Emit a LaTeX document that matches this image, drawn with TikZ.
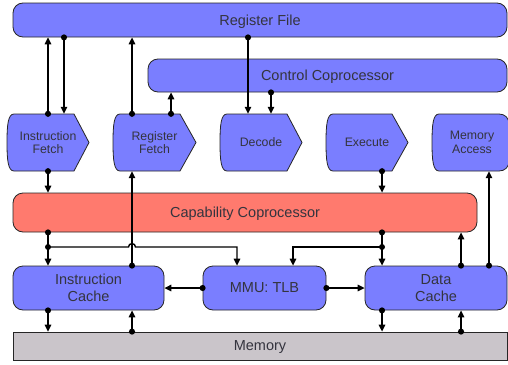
\documentclass[tikz,border=0pt]{standalone}
\usepackage{fontspec}
\setmainfont{Liberation Sans}
\usetikzlibrary{arrows.meta}
\definecolor{boxblue}{RGB}{122,126,255}
\definecolor{capred}{RGB}{255,122,110}
\definecolor{memgray}{RGB}{202,197,202}
\definecolor{txt}{RGB}{52,52,62}
\tikzset{
  blk/.style={draw=black!85, line width=0.8pt, rounded corners=10pt, fill=boxblue, inner sep=0pt, text=txt, font=\fontsize{14.5}{17}\selectfont, align=center},
  oneline/.style={text depth=0pt},
  stagefill/.style={draw=black!85, line width=0.8pt, fill=boxblue},
  stagetext/.style={text=txt, font=\fontsize{12.3}{13.5}\selectfont, align=center, inner sep=0pt, minimum height=57pt},
  conn/.style={line width=1.4pt, {Circle[length=6pt]}-{Triangle[length=7pt,width=6.5pt]}, shorten <=-3pt},
  link/.style={line width=1.4pt, -{Triangle[length=7pt,width=6.5pt]}},
}
\newcommand\stagebox[5]{%
  \draw[stagefill] (#2+7,114) -- (#3,114) -- (#4,142.5) -- (#3,171) -- (#2+7,171)
    .. controls (#2+1,171) and (#2,160) .. (#2,142.5)
    .. controls (#2,125) and (#2+1,114) .. cycle;
  \node[stagetext, minimum width={#4-#2}] (#1) at ({(#2+#4)/2},142.5) {#5};
}
\begin{document}
\begin{tikzpicture}[x=1pt,y=-1pt]
\clip (0,0) rectangle (508,364);
\fill[white] (0,0) rectangle (508,364);
% boxes
\node[blk, oneline, minimum width=494pt, minimum height=34pt] (rf) at (260,20) {Register File};
\node[blk, oneline, minimum width=359pt, minimum height=33pt] (cc) at (327.5,75.5) {Control Coprocessor};
\stagebox{if}{7}{74}{89}{Instruction\\Fetch}
\stagebox{rfe}{113}{180}{196}{Register\\Fetch}
\stagebox{dec}{220}{287}{302}{Decode}
\stagebox{exe}{326}{392}{408}{Execute}
\draw[stagefill] (439,114) -- (499,114) .. controls (505,114) and (509,118) .. (509,124)
  -- (509,161) .. controls (509,167) and (505,171) .. (499,171) -- (439,171)
  .. controls (433,171) and (432,160) .. (432,142.5)
  .. controls (432,125) and (433,114) .. cycle;
\node[stagetext, minimum width=77pt] (ma) at (472,142.5) {Memory\\Access};
\node[blk, oneline, fill=capred, minimum width=464pt, minimum height=39pt] (cap) at (245,212.5) {Capability Coprocessor};
\node[blk, minimum width=151pt, minimum height=44pt] (ic) at (88.5,288) {Instruction\\Cache};
\node[blk, oneline, minimum width=123pt, minimum height=44pt] (mmu) at (264.5,288) {MMU: TLB};
\node[blk, minimum width=142pt, minimum height=44pt] (dc) at (436,288) {Data\\Cache};
\node[blk, oneline, rounded corners=0pt, fill=memgray, minimum width=494pt, minimum height=28pt] (mem) at (260,346) {Memory};
% columns
\coordinate (x48) at (48,0);
\coordinate (x64) at (64,0);
\coordinate (x132) at (132,0);
\coordinate (x171) at (171,0);
\coordinate (x237) at (237,0);
\coordinate (x248) at (248,0);
\coordinate (x271) at (271,0);
\coordinate (x293) at (293,0);
\coordinate (x382) at (382,0);
\coordinate (x461) at (461,0);
\coordinate (x489) at (489,0);
% connectors
\draw[conn] (x48 |- if.north) -- (x48 |- rf.south);
\draw[conn] (x64 |- rf.south) -- (x64 |- if.north);
\draw[conn] (x132 |- rfe.north) -- (x132 |- rf.south);
\draw[conn] (x171 |- rfe.north) -- (x171 |- cc.south);
\draw[conn] (x248 |- rf.south) -- (x248 |- dec.north);
\draw[conn] (x271 |- cc.south) -- (x271 |- dec.north);
\draw[conn] (x382 |- exe.south) -- (x382 |- cap.north);
\draw[conn] (x489 |- dc.north) -- (x489 |- ma.south);
\draw[conn] (x48 |- if.south) -- (x48 |- cap.north);
\draw[conn] (x48 |- cap.south) -- (x48 |- ic.north);
\coordinate (jl) at (48,247);
\fill (jl) circle (3pt);
\draw[link] (jl) -- (128.5,247) .. controls (128.5,242.5) and (135.5,242.5) .. (135.5,247)
  -- (x237 |- jl) -- (x237 |- mmu.north);
\draw[conn] (x132 |- ic.north) -- (x132 |- rfe.south);
\draw[conn] (x382 |- cap.south) -- (x382 |- dc.north);
\coordinate (jr) at (382,247);
\fill (jr) circle (3pt);
\draw[link] (jr) -- (x293 |- jr) -- (x293 |- mmu.north);
\draw[conn] (x461 |- dc.north) -- (x461 |- cap.south);
\draw[conn] (mmu.west) -- (ic.east);
\draw[conn] (mmu.east) -- (dc.west);
\draw[conn] (x48 |- ic.south) -- (x48 |- mem.north);
\draw[conn] (x132 |- mem.north) -- (x132 |- ic.south);
\draw[conn] (x382 |- dc.south) -- (x382 |- mem.north);
\draw[conn] (x461 |- mem.north) -- (x461 |- dc.south);
\end{tikzpicture}
\end{document}
